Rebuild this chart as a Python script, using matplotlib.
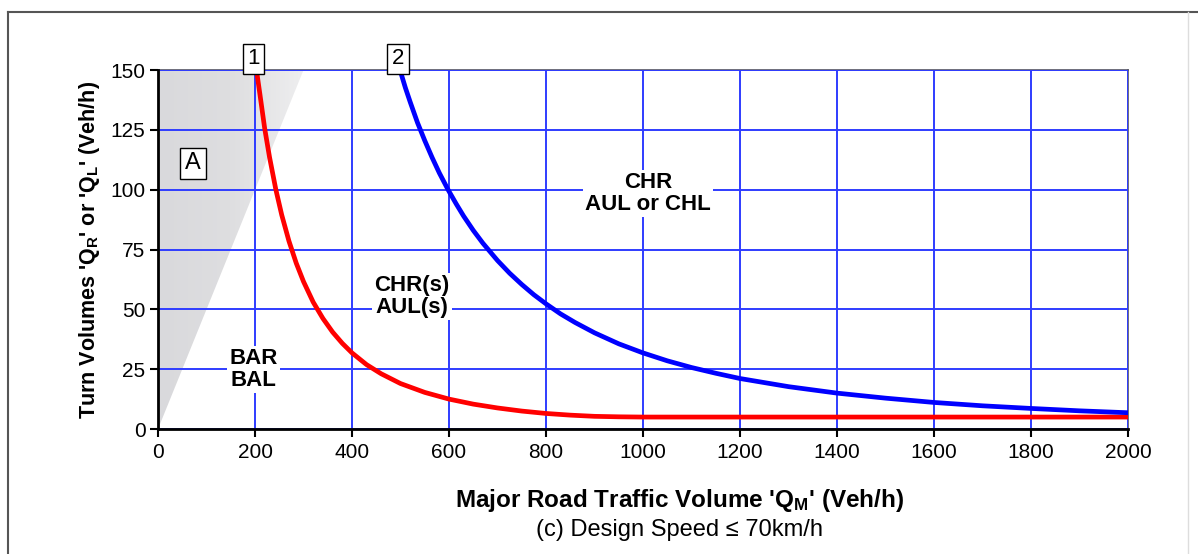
import matplotlib
matplotlib.use("Agg")
import matplotlib.pyplot as plt
import numpy as np
from matplotlib.lines import Line2D
from matplotlib.colors import LinearSegmentedColormap

plt.rcParams['font.family'] = ['Liberation Sans', 'DejaVu Sans']
plt.rcParams['mathtext.fontset'] = 'custom'
plt.rcParams['mathtext.rm'] = 'Liberation Sans'
plt.rcParams['mathtext.bf'] = 'Liberation Sans:bold'
plt.rcParams['mathtext.it'] = 'Liberation Sans:italic'

# curve 1 (red) - boundary BAR/BAL vs CHR(s)/AUL(s)
red_x = [203, 210, 220, 230, 243, 255, 270, 285, 300, 320, 340, 360, 380,
         400, 430, 460, 500, 550, 600, 650, 700, 750, 800, 850, 900, 950,
         1000, 1200, 1600, 2000]
red_y = [150, 140, 125.5, 113.5, 100, 89.5, 78.5, 69.3, 61.6, 53, 46.2, 40.5,
         35.8, 31.8, 26.9, 23.1, 19, 15.3, 12.5, 10.4, 8.8, 7.5, 6.5, 5.8,
         5.3, 5.1, 5, 5, 5, 5]

# curve 2 (blue) - boundary CHR(s)/AUL(s) vs CHR / AUL or CHL
blue_x = [499, 510, 520, 535, 550, 565, 580, 598, 615, 630, 650, 670, 700,
          725, 750, 775, 800, 830, 860, 900, 950, 1000, 1050, 1100, 1150,
          1200, 1300, 1400, 1500, 1600, 1700, 1800, 1900, 2000]
blue_y = [150, 142.6, 136.6, 128, 120.5, 113.5, 107, 100, 94, 89, 83, 77.6,
          70.4, 65.1, 60.4, 56.1, 52.3, 48.1, 44.5, 40.2, 35.6, 31.8, 28.5,
          25.7, 23.3, 21.1, 17.7, 15, 12.9, 11.1, 9.7, 8.6, 7.6, 6.8]

# shaded region A
area_x = [0, 300, 0]
area_y = [0, 150, 150]

x_ticks = list(range(0, 2001, 200))
y_ticks = [0, 25, 50, 75, 100, 125, 150]

fig = plt.figure(figsize=(11.98, 5.54), dpi=100)
ax = fig.add_axes([0.1319, 0.2256, 0.8097, 0.648])

# gray fading fill for area A
grey = LinearSegmentedColormap.from_list('g', ['#d9d9dc', '#dedee0', '#eeeeef'])
poly = ax.fill(area_x, area_y, color='none', lw=0)[0]
img = ax.imshow(np.linspace(0, 1, 64).reshape(1, -1), cmap=grey, vmin=0, vmax=1,
                aspect='auto', extent=[0, 300, 0, 150], zorder=1,
                interpolation='bilinear')
img.set_clip_path(poly)
ax.set_xlim(0, 2000)
ax.set_ylim(0, 150)

ax.set_xticks(x_ticks)
ax.set_yticks(y_ticks)
ax.grid(True, color='#2f3cff', lw=1.4, zorder=2)
ax.set_axisbelow(False)

ax.plot(red_x, red_y, color='#ff0000', lw=3.4, zorder=4, solid_joinstyle='round')
ax.plot(blue_x, blue_y, color='#0000ff', lw=3.4, zorder=4, solid_joinstyle='round')

for s in ['top', 'right']:
    ax.spines[s].set_color('#555566')
    ax.spines[s].set_linewidth(1.2)
for s in ['left', 'bottom']:
    ax.spines[s].set_color('black')
    ax.spines[s].set_linewidth(2)
    ax.spines[s].set_zorder(5)
ax.tick_params(axis='both', direction='out', length=6, width=1.5,
               labelsize=15, colors='black', pad=3)
ax.tick_params(axis='x', pad=4)

box = dict(boxstyle='square,pad=0.2', fc='white', ec='black', lw=1)
ax.text(197, 150.3, '1', ha='center', va='bottom', fontsize=16, bbox=box, zorder=6)
ax.text(495, 150.3, '2', ha='center', va='bottom', fontsize=16, bbox=box, zorder=6)
ax.text(72, 111, 'A', ha='center', va='center', fontsize=17, bbox=box, zorder=6)

wbox = dict(boxstyle='square,pad=0.1', fc='white', ec='none')
ax.text(1010, 98.5, 'CHR\nAUL or CHL', ha='center', va='center', fontsize=16,
        fontweight='bold', linespacing=1.05, bbox=wbox, zorder=3)
ax.text(524, 55.5, 'CHR(s)\nAUL(s)', ha='center', va='center', fontsize=16,
        fontweight='bold', linespacing=1.05, bbox=wbox, zorder=3)
ax.text(197, 25, 'BAR\nBAL', ha='center', va='center', fontsize=16,
        fontweight='bold', linespacing=1.05, bbox=wbox, zorder=3)

ax.set_ylabel(r"Turn Volumes 'Q$_\mathbf{R}$' or 'Q$_\mathbf{L}$' (Veh/h)",
              fontsize=15.5, fontweight='bold', labelpad=6)
fig.text(680 / 1198, 1 - 500 / 554, r"Major Road Traffic Volume 'Q$_\mathbf{M}$' (Veh/h)",
         ha='center', va='center', fontsize=17.5, fontweight='bold')
fig.text(679 / 1198, 1 - 530 / 554, '(c) Design Speed \u2264 70km/h',
         ha='center', va='center', fontsize=17)

# outer frame
fig.add_artist(Line2D([8 / 1198, 1198 / 1198], [1 - 12 / 554] * 2,
                      transform=fig.transFigure, color='#555555', lw=1.5))
fig.add_artist(Line2D([8 / 1198] * 2, [0, 1 - 12 / 554],
                      transform=fig.transFigure, color='#555555', lw=1.5))
fig.add_artist(Line2D([1188 / 1198] * 2, [0, 1 - 12 / 554],
                      transform=fig.transFigure, color='#dddddd', lw=1))

fig.savefig('out.png', dpi=100)
